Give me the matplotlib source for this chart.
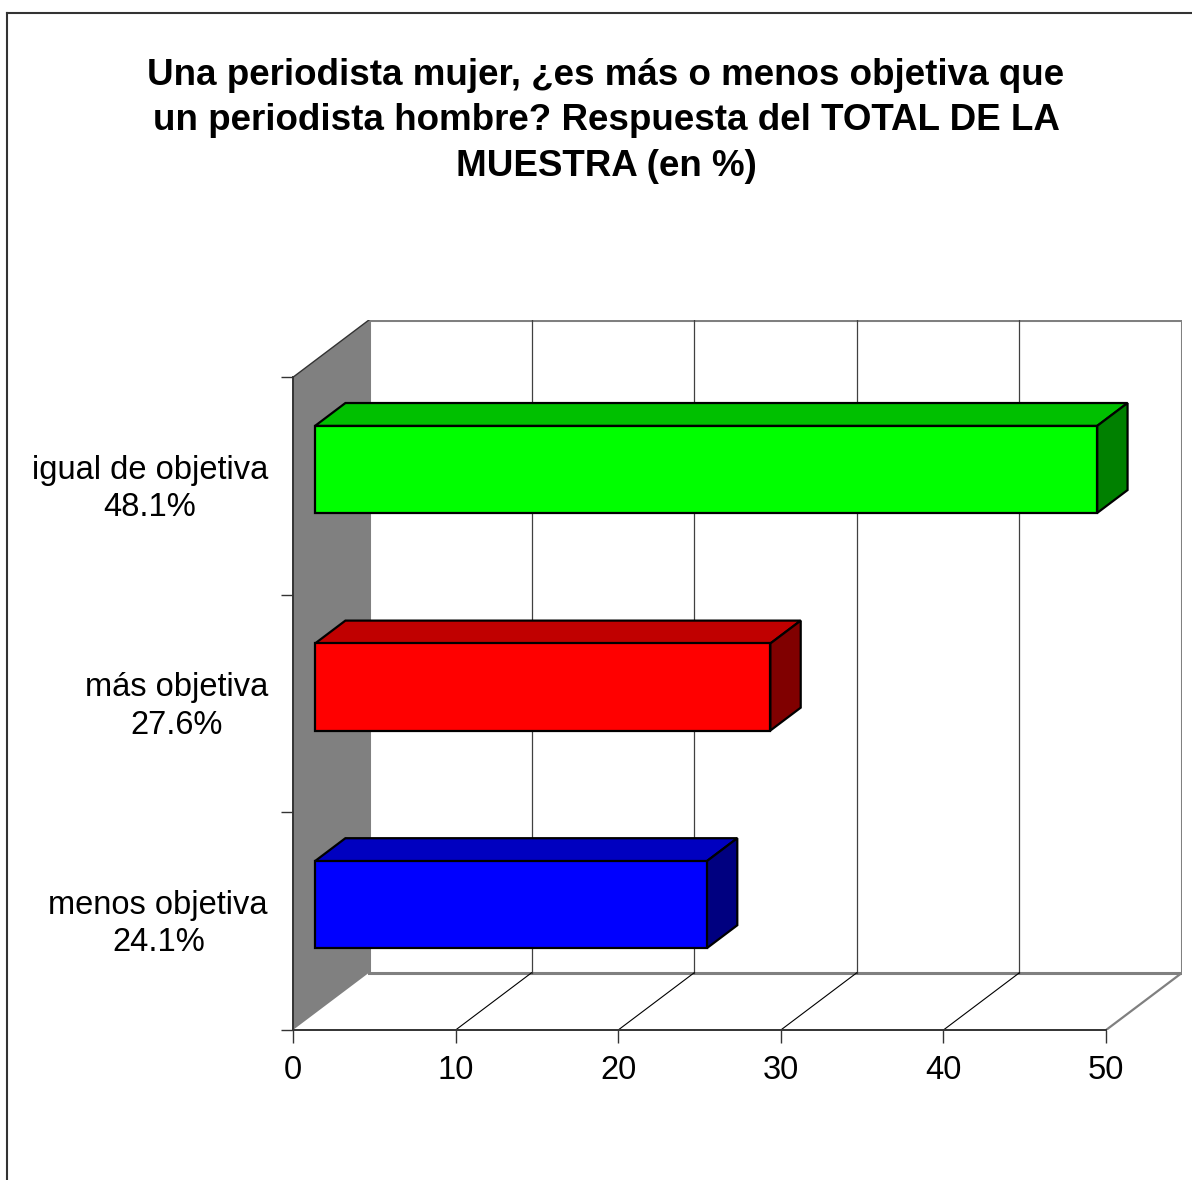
import matplotlib
matplotlib.use("Agg")
import matplotlib.pyplot as plt
from matplotlib.patches import Polygon, Rectangle
from matplotlib.lines import Line2D
from matplotlib.transforms import ScaledTranslation

# datos
categorias = ["menos objetiva", "más objetiva", "igual de objetiva"]
porcentajes = ["24.1%", "27.6%", "48.1%"]
valores = [24.1, 28.0, 48.1]
colores_frente = ["#0000FF", "#FF0000", "#00FF00"]
colores_arriba = ["#0000C0", "#C00000", "#00C000"]
colores_lado = ["#000080", "#800000", "#008000"]
ticks_x = [0, 10, 20, 30, 40, 50]
titulo = ("Una periodista mujer, ¿es más o menos objetiva que\n"
          "un periodista hombre? Respuesta del TOTAL DE LA\n"
          "MUESTRA (en %)")

plt.rcParams['font.family'] = ['Liberation Sans', 'DejaVu Sans']

W, H = 1192, 1180
fig = plt.figure(figsize=(W / 100, H / 100), dpi=100)

# profundidad del efecto 3D (unidades de datos)
DX = 4.67
DY = 0.263
XMAX = 50
n = len(categorias)

ax = fig.add_axes([293 / W, 1 - 1030 / H, (1182 - 293) / W, (1030 - 320) / H])
ax.set_xlim(0, XMAX + DX)
ax.set_ylim(0, n + DY)
for s in ax.spines.values():
    s.set_visible(False)
ax.patch.set_visible(False)

# pared del fondo
ax.add_patch(Rectangle((DX, DY), XMAX, n, facecolor="white",
                       edgecolor="#808080", lw=2.2, zorder=1))
for k in ticks_x[1:-1]:
    ax.plot([k + DX, k + DX], [DY, n + DY], color="#404040", lw=0.9, zorder=2)
    ax.plot([k, k + DX], [0, DY], color="black", lw=0.8, zorder=2)
ax.plot([XMAX, XMAX + DX], [0, DY], color="#808080", lw=1.6, zorder=2)

# pared izquierda
ax.add_patch(Polygon([(0, 0), (DX, DY), (DX, n + DY), (0, n)],
                     closed=True, facecolor="#808080", edgecolor="none", zorder=2))
ax.plot([0, DX], [n, n + DY], color="#333333", lw=1.0, zorder=3)
ax.plot([0, 0], [0, n], color="#333333", lw=1.4, zorder=3, clip_on=False)
ax.plot([0, XMAX], [0, 0], color="#333333", lw=1.4, zorder=3, clip_on=False)

# barras
d0, d1 = 0.29, 0.69
hb = 0.2
for i in range(n):
    v = valores[i]
    c = i + 0.5
    x0, y0 = d0 * DX, c - hb + d0 * DY
    x1, y1 = d1 * DX, c - hb + d1 * DY
    arriba = [(x0, y0 + 2 * hb), (x1, y1 + 2 * hb), (x1 + v, y1 + 2 * hb), (x0 + v, y0 + 2 * hb)]
    lado = [(x0 + v, y0), (x1 + v, y1), (x1 + v, y1 + 2 * hb), (x0 + v, y0 + 2 * hb)]
    ax.add_patch(Polygon(arriba, closed=True, facecolor=colores_arriba[i],
                         edgecolor="black", lw=1.6, zorder=5, joinstyle="miter"))
    ax.add_patch(Polygon(lado, closed=True, facecolor=colores_lado[i],
                         edgecolor="black", lw=1.6, zorder=5, joinstyle="miter"))
    ax.add_patch(Rectangle((x0, y0), v, 2 * hb, facecolor=colores_frente[i],
                           edgecolor="black", lw=1.6, zorder=6, joinstyle="miter"))

# ejes
ax.set_xticks(ticks_x)
ax.set_xticklabels([str(t) for t in ticks_x], fontsize=23.5)
ax.tick_params(axis="x", direction="out", length=9, width=1, color="#333333", pad=9)
ax.set_yticks(range(n + 1))
ax.set_yticklabels([])
ax.tick_params(axis="y", which="major", direction="out", length=9, width=1, color="#333333")
ax.set_yticks([i + 0.5 for i in range(n)], minor=True)
ax.set_yticklabels([categorias[i] + "\n" + porcentajes[i] for i in range(n)],
                   minor=True, fontsize=23.5, multialignment="center", linespacing=1.28)
ax.tick_params(axis="y", which="minor", length=0, pad=18)
for lbl in ax.get_yticklabels(minor=True):
    lbl.set_transform(lbl.get_transform() + ScaledTranslation(0, 4 / 100, fig.dpi_scale_trans))

fig.text(606 / W, 1 - 121 / H, titulo, ha="center", va="center",
         fontsize=26.5, fontweight="bold", linespacing=1.4)

# marco
fig.add_artist(Line2D([6.5 / W, 1], [1 - 12.5 / H, 1 - 12.5 / H], color="#333333", lw=1.5))
fig.add_artist(Line2D([6.5 / W, 6.5 / W], [0, 1 - 12.5 / H], color="#333333", lw=1.5))

fig.savefig("out.png", dpi=100)
